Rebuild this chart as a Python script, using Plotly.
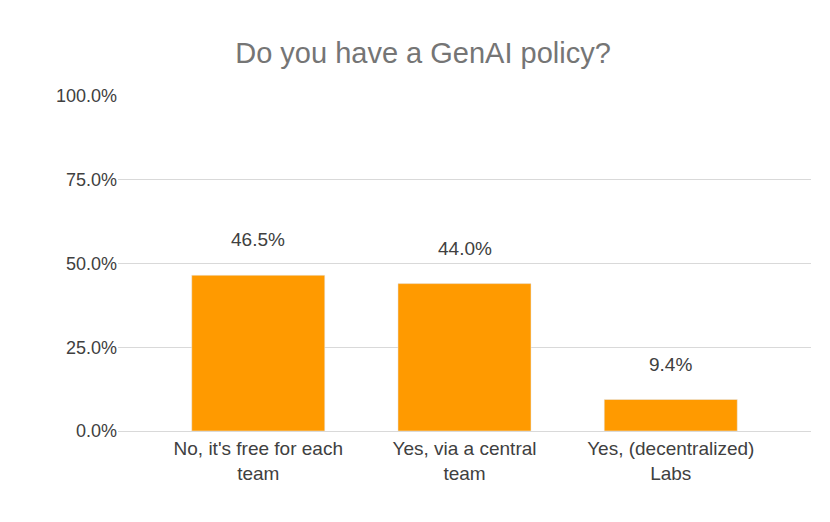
import plotly.graph_objects as go

categories = ["No, it's free for each<br>team", "Yes, via a central<br>team", "Yes, (decentralized)<br>Labs"]
values = [0.465, 0.440, 0.094]
labels = ["46.5%", "44.0%", "9.4%"]
tickvals = [0, 0.25, 0.5, 0.75, 1.0]
ticktext = ["0.0%", "25.0%", "50.0%", "75.0%", "100.0%"]

fig = go.Figure(go.Bar(x=categories, y=values, marker_color="#FF9A00", width=0.645))
for c, v, t in zip(categories, values, labels):
    fig.add_annotation(x=c, y=v, text=t, showarrow=False, yanchor="bottom", yshift=23,
                       font=dict(size=19, color="#404040"))
fig.update_layout(
    width=830, height=522, plot_bgcolor="white", paper_bgcolor="white",
    margin=dict(l=110, r=27, t=88, b=99),
    font=dict(family="Liberation Sans, Arial", color="#404040", size=18),
    title=dict(text="Do you have a GenAI policy?", x=0.5, xanchor="center", y=0.915, yanchor="middle",
               font=dict(size=29, color="#757575")),
    showlegend=False,
)
fig.update_yaxes(range=[0, 1.0], tickvals=tickvals, ticktext=ticktext, showgrid=True,
                 gridcolor="#D9D9D9", gridwidth=1, zeroline=False, ticks="", ticklen=0,
                 tickfont=dict(size=18), showline=False)
fig.update_xaxes(range=[-0.68, 2.68], showline=True, linecolor="#D9D9D9", linewidth=1,
                 tickfont=dict(size=19))
fig.write_html("out.html")
